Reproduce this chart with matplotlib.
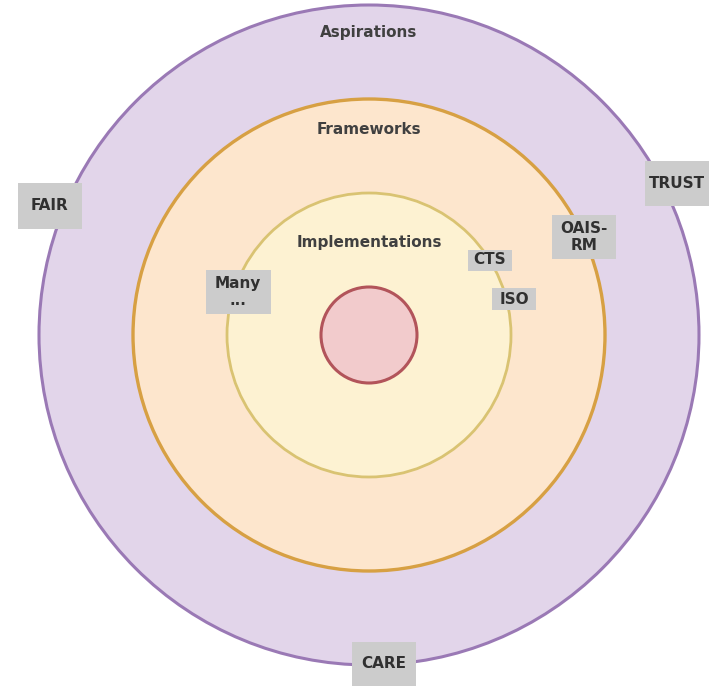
import matplotlib
matplotlib.use("Agg")
import matplotlib.pyplot as plt
from matplotlib.patches import Circle

# Data
ring_labels = ["Aspirations", "Frameworks", "Implementations", ""]
tag_labels = ["FAIR", "TRUST", "OAIS-\nRM", "CTS", "ISO", "Many\n...", "CARE"]

# Layout / styles (pixel coordinates, y downward)
center = (369, 335)
radii = [330, 236, 142, 48]
fills = ["#e2d5ea", "#fde6cd", "#fdf2d2", "#f2cbcc"]
edges = ["#9a79b5", "#d7a043", "#d9c372", "#b2545a"]
lws = [2.2, 2.4, 2.0, 2.2]
ring_label_y = [33, 129, 242, None]
tag_pos = [(50, 206), (677, 183), (584, 237), (490, 260), (514, 299), (238, 292), (384, 664)]
tag_size = [(64, 46), (64, 45), (64, 44), (44, 21), (44, 22), (65, 44), (64, 44)]

fig = plt.figure(figsize=(7.15, 6.86), dpi=100)
ax = fig.add_axes([0, 0, 1, 1])
ax.set_xlim(0, 715)
ax.set_ylim(686, 0)
ax.set_aspect("equal")
ax.axis("off")

for r, fc, ec, lw in zip(radii, fills, edges, lws):
    ax.add_patch(Circle(center, r, facecolor=fc, edgecolor=ec, lw=lw))

for lab, y in zip(ring_labels, ring_label_y):
    if lab:
        ax.text(center[0], y, lab, ha="center", va="center", fontsize=11,
                fontweight="bold", color="#404040", family="DejaVu Sans")

for lab, (x, y), (w, h) in zip(tag_labels, tag_pos, tag_size):
    ax.add_patch(plt.Rectangle((x - w / 2, y - h / 2), w, h, facecolor="#cccccc",
                               edgecolor="none", zorder=5))
    ax.text(x, y, lab, ha="center", va="center", fontsize=11, fontweight="bold",
            color="#303030", linespacing=1.1, zorder=6, family="DejaVu Sans")

fig.savefig("out.png", dpi=100)
